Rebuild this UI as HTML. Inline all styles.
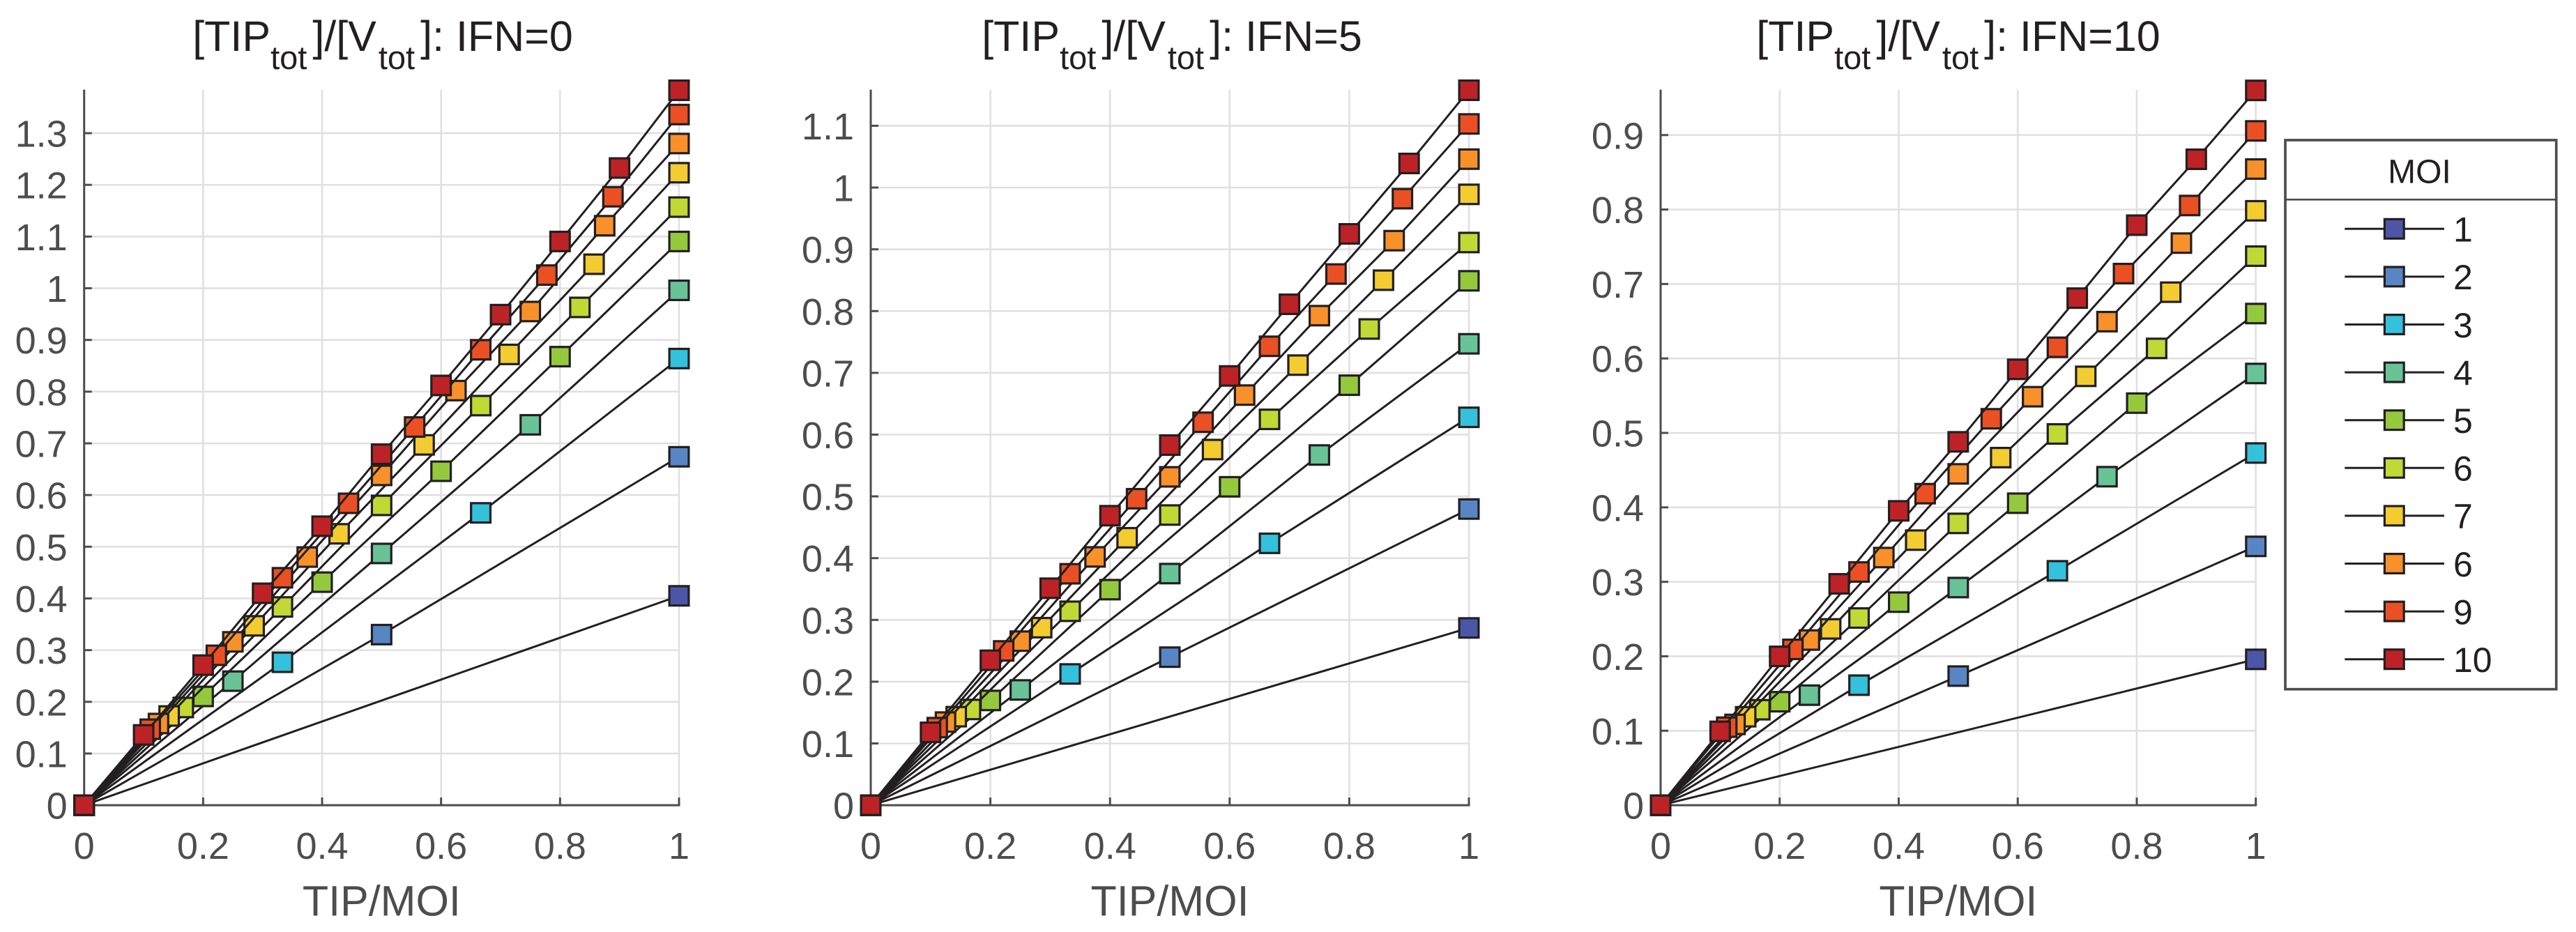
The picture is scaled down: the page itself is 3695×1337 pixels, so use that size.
<!DOCTYPE html>
<html lang="en">
<head>
<meta charset="utf-8">
<title>[TIPtot]/[Vtot] versus TIP/MOI</title>
<style>
html,body{margin:0;padding:0;background:#fff;}
svg{display:block;}
text{font-family:"Liberation Sans",Arial,sans-serif;}
</style>
</head>
<body>
<svg id="chart" xmlns="http://www.w3.org/2000/svg" width="3695" height="1337" viewBox="0 0 3695 1337">
<rect x="0" y="0" width="3695" height="1337" fill="#ffffff"/>
<text x="549" y="73" text-anchor="middle" font-size="61" fill="#231f20">[TIP<tspan font-size="47" dy="26">tot</tspan><tspan dy="-26" dx="8">]/[V</tspan><tspan font-size="47" dy="26" dx="3">tot</tspan><tspan dy="-26" dx="8">]: IFN=0</tspan></text>
<text x="1681" y="73" text-anchor="middle" font-size="61" fill="#231f20">[TIP<tspan font-size="47" dy="26">tot</tspan><tspan dy="-26" dx="8">]/[V</tspan><tspan font-size="47" dy="26" dx="3">tot</tspan><tspan dy="-26" dx="8">]: IFN=5</tspan></text>
<text x="2809" y="73" text-anchor="middle" font-size="61" fill="#231f20">[TIP<tspan font-size="47" dy="26">tot</tspan><tspan dy="-26" dx="8">]/[V</tspan><tspan font-size="47" dy="26" dx="3">tot</tspan><tspan dy="-26" dx="8">]: IFN=10</tspan></text>
<g id="panels"></g>
<g id="legend">
<rect x="3278" y="201" width="388.7" height="787.7" fill="#ffffff" stroke="#4d4d4d" stroke-width="3.7"/>
<line x1="3278" y1="286.3" x2="3666.7" y2="286.3" stroke="#4d4d4d" stroke-width="2.6"/>
<text x="3470.5" y="262.7" text-anchor="middle" font-size="48" fill="#231f20">MOI</text>
</g>
</svg>
<script>
// Categories and tick labels
const moiValues = [1, 2, 3, 4, 5, 6, 7, 8, 9, 10];
const legendLabels = ['1', '2', '3', '4', '5', '6', '7', '6', '9', '10'];
const seriesColors = ['#4b57a6', '#5885c4', '#33c1dc', '#68c397', '#95c93d', '#c1d935', '#f2cc30', '#f8912a', '#ea5023', '#bd2326'];
const xTickValues = [0, 0.2, 0.4, 0.6, 0.8, 1];
const xTickLabels = ['0', '0.2', '0.4', '0.6', '0.8', '1'];
const yTicksIfn0 = [0, 0.1, 0.2, 0.3, 0.4, 0.5, 0.6, 0.7, 0.8, 0.9, 1, 1.1, 1.2, 1.3];
const yTicksIfn5 = [0, 0.1, 0.2, 0.3, 0.4, 0.5, 0.6, 0.7, 0.8, 0.9, 1, 1.1];
const yTicksIfn10 = [0, 0.1, 0.2, 0.3, 0.4, 0.5, 0.6, 0.7, 0.8, 0.9];

// Each row is one MOI; entry k is the value at TIP/MOI = k / MOI
const valuesIfn0 = [
  [0, 0.405],
  [0, 0.330, 0.674],
  [0, 0.2765, 0.5655, 0.864],
  [0, 0.240, 0.487, 0.7358, 0.996],
  [0, 0.2104, 0.4315, 0.646, 0.8677, 1.0905],
  [0, 0.189, 0.3835, 0.580, 0.773, 0.963, 1.157],
  [0, 0.1726, 0.347, 0.525, 0.697, 0.872, 1.0465, 1.2235],
  [0, 0.158, 0.316, 0.480, 0.638, 0.802, 0.955, 1.121, 1.280],
  [0, 0.147, 0.290, 0.440, 0.584, 0.7316, 0.881, 1.0255, 1.177, 1.336],
  [0, 0.136, 0.271, 0.410, 0.5397, 0.679, 0.812, 0.949, 1.0905, 1.2326, 1.383]
];
const valuesIfn5 = [
  [0, 0.287],
  [0, 0.2397, 0.4795],
  [0, 0.2125, 0.424, 0.628],
  [0, 0.1866, 0.375, 0.567, 0.747],
  [0, 0.1696, 0.349, 0.5155, 0.680, 0.849],
  [0, 0.155, 0.314, 0.4698, 0.6247, 0.771, 0.911],
  [0, 0.1433, 0.2874, 0.433, 0.5758, 0.7125, 0.850, 0.989],
  [0, 0.1346, 0.2656, 0.402, 0.5316, 0.664, 0.7926, 0.914, 1.046],
  [0, 0.1256, 0.2498, 0.3747, 0.4962, 0.620, 0.743, 0.860, 0.982, 1.103],
  [0, 0.118, 0.2347, 0.3513, 0.4687, 0.583, 0.695, 0.811, 0.925, 1.039, 1.1575]
];
const valuesIfn10 = [
  [0, 0.1959],
  [0, 0.1734, 0.3476],
  [0, 0.1612, 0.3148, 0.473],
  [0, 0.1478, 0.2923, 0.4412, 0.5798],
  [0, 0.139, 0.2727, 0.4056, 0.540, 0.6603],
  [0, 0.1282, 0.2514, 0.3785, 0.4986, 0.6135, 0.7374],
  [0, 0.1188, 0.2368, 0.356, 0.4668, 0.576, 0.689, 0.7983],
  [0, 0.1085, 0.2218, 0.3326, 0.445, 0.5486, 0.6494, 0.7549, 0.8544],
  [0, 0.1048, 0.2093, 0.3132, 0.4184, 0.519, 0.615, 0.714, 0.8054, 0.9056],
  [0, 0.0992, 0.1999, 0.2973, 0.3953, 0.488, 0.5854, 0.681, 0.779, 0.8675, 0.960]
];

const SVG_NS = 'http://www.w3.org/2000/svg';
const TOP = 128.6;
const BASE = 1155.1;
const MARKER = 27.8;

function make(parent, tag, attrs, text) {
  const el = document.createElementNS(SVG_NS, tag);
  for (const key in attrs) el.setAttribute(key, attrs[key]);
  if (text !== undefined) el.textContent = text;
  parent.appendChild(el);
  return el;
}

function drawPanel(root, key, left, right, yMax, yTicks, values) {
  const xScale = v => left + v * (right - left);
  const yScale = v => BASE - v / yMax * (BASE - TOP);

  const panel = make(root, 'g', {});
  
  

  xTickValues.forEach(function (tick) {
    const grid = make(panel, 'line', {x1: xScale(tick), x2: xScale(tick), y1: TOP, y2: BASE, stroke: '#e0e0e1', 'stroke-width': 2.6});
    
    
  });
  yTicks.forEach(function (tick) {
    const grid = make(panel, 'line', {x1: left, x2: right, y1: yScale(tick), y2: yScale(tick), stroke: '#e0e0e1', 'stroke-width': 2.6});
    
    
  });

  const yAxis = make(panel, 'line', {x1: left, x2: left, y1: TOP, y2: BASE + 1.5, stroke: '#4d4d4d', 'stroke-width': 3});
  
  
  const xAxis = make(panel, 'line', {x1: left, x2: right + 1.5, y1: BASE, y2: BASE, stroke: '#4d4d4d', 'stroke-width': 3});
  
  

  xTickValues.forEach(function (tick, i) {
    const mark = make(panel, 'line', {x1: xScale(tick), x2: xScale(tick), y1: BASE, y2: BASE - 11, stroke: '#4d4d4d', 'stroke-width': 3});
    
    
    const label = make(panel, 'text', {x: xScale(tick), y: BASE + 77, 'text-anchor': 'middle', 'font-size': 54, fill: '#4d4d4d'}, xTickLabels[i]);
    
    
  });
  yTicks.forEach(function (tick) {
    const mark = make(panel, 'line', {x1: left, x2: left + 11, y1: yScale(tick), y2: yScale(tick), stroke: '#4d4d4d', 'stroke-width': 3});
    
    
    const label = make(panel, 'text', {x: left - 24, y: yScale(tick) + 19.5, 'text-anchor': 'end', 'font-size': 54, fill: '#4d4d4d'}, String(tick));
    
    
  });

  const xTitle = make(panel, 'text', {x: (left + right) / 2, y: 1313.5, 'text-anchor': 'middle', 'font-size': 61, fill: '#4d4d4d'}, 'TIP/MOI');
  
  

  moiValues.forEach(function (moi, s) {
    const group = make(panel, 'g', {});
    
    
    const points = values[s].map(function (v, k) { return xScale(k / moi) + ',' + yScale(v); }).join(' ');
    const line = make(group, 'polyline', {points: points, fill: 'none', stroke: '#231f20', 'stroke-width': 3});
    
    
    values[s].forEach(function (v, k) {
      const cx = xScale(k / moi);
      const cy = yScale(v);
      const marker = make(group, 'rect', {x: cx - MARKER / 2, y: cy - MARKER / 2, width: MARKER, height: MARKER, fill: seriesColors[s], stroke: '#231f20', 'stroke-width': 3.2});
      
      
    });
  });
}

function drawLegend(root) {
  const rowTop = 328.3;
  const rowStep = 68.6;
  legendLabels.forEach(function (text, i) {
    const y = rowTop + i * rowStep;
    const entry = make(root, 'g', {});
    
    
    const line = make(entry, 'line', {x1: 3363.3, x2: 3506, y1: y, y2: y, stroke: '#231f20', 'stroke-width': 3});
    
    
    const swatch = make(entry, 'rect', {x: 3434.3 - MARKER / 2, y: y - MARKER / 2, width: MARKER, height: MARKER, fill: seriesColors[i], stroke: '#231f20', 'stroke-width': 3.2});
    
    
    const label = make(entry, 'text', {x: 3519, y: y + 18.3, 'font-size': 50, fill: '#231f20'}, text);
    
    
  });
}

const panelsRoot = document.getElementById('panels');
drawPanel(panelsRoot, 'ifn-0', 120.7, 974, 1.3842, yTicksIfn0, valuesIfn0);
drawPanel(panelsRoot, 'ifn-5', 1249, 2107, 1.1585, yTicksIfn5, valuesIfn5);
drawPanel(panelsRoot, 'ifn-10', 2382, 3235.7, 0.961, yTicksIfn10, valuesIfn10);
drawLegend(document.getElementById('legend'));
</script>
</body>
</html>
